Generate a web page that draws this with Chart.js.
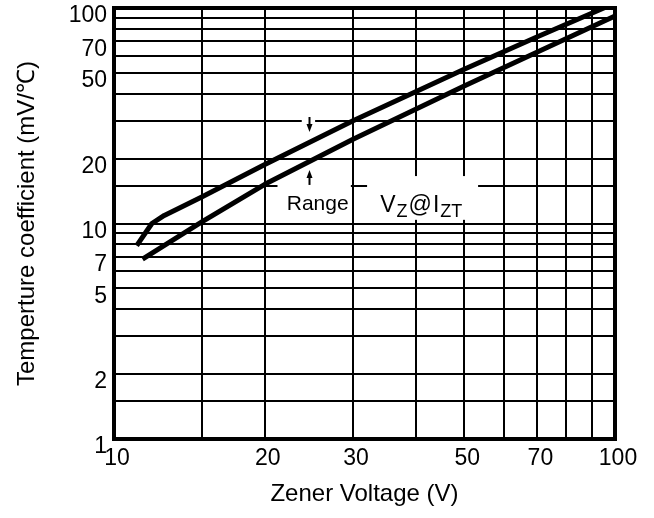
<!DOCTYPE html>
<html>
<head>
<meta charset="utf-8">
<script src="https://cdn.jsdelivr.net/npm/chart.js@4.4.1/dist/chart.umd.min.js"></script>
<style>
  html, body { margin: 0; padding: 0; background: #fff; }
  canvas { display: block; }
</style>
</head>
<body>
<canvas id="tcChart" width="654" height="518"></canvas>
<script>
// Zener voltage (V) vs temperature coefficient (mV/°C), upper and lower bound
const upperVz = [11.1, 11.9, 12.6, 15, 20, 30, 50, 70, 96];
const upperTc = [7.9, 10.0, 10.9, 13.3, 18.8, 30.0, 52.0, 73.5, 101];
const lowerVz = [11.4, 15, 20, 30, 50, 70, 100];
const lowerTc = [6.84, 10.2, 15.2, 24.6, 43.5, 62.5, 91.8];

// grid lines and tick labels
const xGrid = [10, 15, 20, 30, 40, 50, 60, 70, 80, 90, 100];
const xLabels = [10, 20, 30, 50, 70, 100];
const yGrid = [1, 1.5, 2, 3, 4, 5, 6, 7, 8, 9, 10, 15, 20, 30, 40, 50, 60, 70, 80, 90, 100];
const yLabels = [1, 2, 5, 7, 10, 20, 50, 70, 100];

const FONT = '"Liberation Sans", Arial, sans-serif';
Chart.defaults.color = '#000';
Chart.defaults.font.family = FONT;

function toPoints(xs, ys) {
    return xs.map((x, i) => ({ x: x, y: ys[i] }));
}

// white boxes behind the labels, arrows and text (in data units)
const annotations = {
    boxes: [
        { x0: 21.2, x1: 29.7, y0: 10.4, y1: 15.9 },  // Range
        { x0: 32.0, x1: 53.3, y0: 10.4, y1: 16.6 },  // Vz@Izt
        { x0: 23.7, x1: 25.2, y0: 28.3, y1: 32.2 }   // gap for top arrow
    ],
    arrowX: 24.5,
    topArrow: { from: 31.2, to: 26.6 },
    bottomArrow: { from: 15.1, to: 17.7 },
    rangeText: { x: 25.5, y: 11.5 },
    vzText: { x: 34, y: 11.3 }
};

function drawArrow(ctx, x, y0, y1) {
    const dir = y1 > y0 ? 1 : -1;
    ctx.beginPath();
    ctx.lineWidth = 2;
    ctx.moveTo(x, y0);
    ctx.lineTo(x, y1 - dir * 6);
    ctx.stroke();
    ctx.beginPath();
    ctx.moveTo(x, y1);
    ctx.lineTo(x - 3, y1 - dir * 8);
    ctx.lineTo(x + 3, y1 - dir * 8);
    ctx.closePath();
    ctx.fill();
}

const decorPlugin = {
    id: 'decor',
    beforeDatasetsDraw(chart) {
        const { ctx, scales: { x, y } } = chart;
        ctx.save();
        ctx.fillStyle = '#fff';
        annotations.boxes.forEach(b => {
            const l = x.getPixelForValue(b.x0), r = x.getPixelForValue(b.x1);
            const t = y.getPixelForValue(b.y1), bt = y.getPixelForValue(b.y0);
            ctx.fillRect(l, t, r - l, bt - t);
        });
        ctx.restore();
    },
    afterDatasetsDraw(chart) {
        const { ctx, chartArea, scales: { x, y } } = chart;
        ctx.save();
        ctx.fillStyle = '#000';
        ctx.strokeStyle = '#000';

        const ax = Math.round(x.getPixelForValue(annotations.arrowX)) + 0.5;
        drawArrow(ctx, ax, y.getPixelForValue(annotations.topArrow.from), y.getPixelForValue(annotations.topArrow.to));
        drawArrow(ctx, ax, y.getPixelForValue(annotations.bottomArrow.from), y.getPixelForValue(annotations.bottomArrow.to));

        ctx.textBaseline = 'alphabetic';
        ctx.textAlign = 'center';
        ctx.font = '21px ' + FONT;
        ctx.fillText('Range', x.getPixelForValue(annotations.rangeText.x), y.getPixelForValue(annotations.rangeText.y));

        // V_Z @ I_ZT with subscripts
        ctx.textAlign = 'left';
        let px = x.getPixelForValue(annotations.vzText.x);
        const base = y.getPixelForValue(annotations.vzText.y);
        const parts = [
            { t: 'V', size: 23, dy: 0 },
            { t: 'Z', size: 18, dy: 5 },
            { t: '@', size: 23, dy: 0 },
            { t: 'I', size: 23, dy: 0 },
            { t: 'ZT', size: 18, dy: 5 }
        ];
        parts.forEach(p => {
            ctx.font = p.size + 'px ' + FONT;
            ctx.fillText(p.t, px, base + p.dy);
            px += ctx.measureText(p.t).width + 1;
        });

        // heavy frame around the plot
        ctx.lineWidth = 4;
        ctx.strokeRect(chartArea.left, chartArea.top, chartArea.right - chartArea.left, chartArea.bottom - chartArea.top);
        ctx.restore();
    }
};

const ctx = document.getElementById('tcChart').getContext('2d');
const tcChart = new Chart(ctx, {
    type: 'line',
    data: {
        datasets: [
            {
                label: 'upper',
                data: toPoints(upperVz, upperTc),
                borderColor: '#000',
                borderWidth: 5,
                pointRadius: 0,
                borderJoinStyle: 'round',
                fill: false
            },
            {
                label: 'lower',
                data: toPoints(lowerVz, lowerTc),
                borderColor: '#000',
                borderWidth: 5,
                pointRadius: 0,
                borderJoinStyle: 'round',
                fill: false
            }
        ]
    },
    options: {
        responsive: false,
        animation: false,
        layout: { padding: { left: 0, top: 8, right: 39, bottom: 0 } },
        plugins: { legend: { display: false }, tooltip: { enabled: false } },
        scales: {
            x: {
                type: 'logarithmic',
                min: 10,
                max: 100,
                afterBuildTicks: s => { s.ticks = xGrid.map(v => ({ value: v })); },
                afterFit: s => { s.height = 79; s.paddingLeft = 0; s.paddingRight = 0; },
                grid: { color: '#000', lineWidth: 2, drawTicks: false },
                border: { display: false },
                ticks: {
                    autoSkip: false,
                    maxRotation: 0,
                    padding: 6,
                    labelOffset: 3,
                    font: { size: 23 },
                    callback: v => xLabels.includes(v) ? String(v) : ''
                },
                title: {
                    display: true,
                    text: 'Zener Voltage (V)',
                    font: { size: 24 },
                    padding: { top: 0, bottom: 9 }
                }
            },
            y: {
                type: 'logarithmic',
                min: 1,
                max: 100,
                afterBuildTicks: s => { s.ticks = yGrid.map(v => ({ value: v })); },
                afterFit: s => { s.width = 114; s.paddingTop = 0; s.paddingBottom = 0; },
                grid: { color: '#000', lineWidth: 2, drawTicks: false },
                border: { display: false },
                ticks: {
                    autoSkip: false,
                    padding: 7,
                    labelOffset: 8,
                    font: { size: 23 },
                    callback: v => yLabels.includes(v) ? String(v) : ''
                },
                title: {
                    display: true,
                    text: 'Temperture coefficient (mV/℃)',
                    font: { size: 24 },
                    padding: { top: 13, bottom: 0 }
                }
            }
        }
    },
    plugins: [decorPlugin]
});
</script>
</body>
</html>
